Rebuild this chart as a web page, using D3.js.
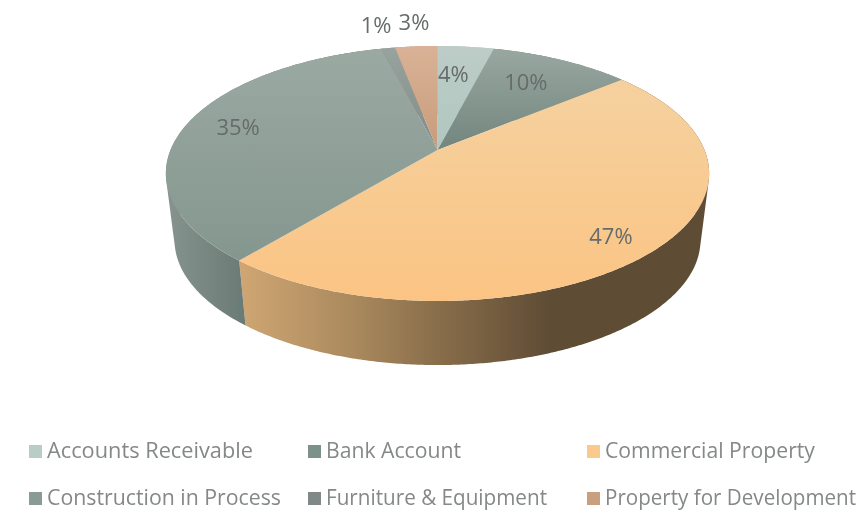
<!DOCTYPE html>
<html><head><meta charset="utf-8">
<script src="https://cdn.jsdelivr.net/npm/d3@7/dist/d3.min.js"></script>
<style>html,body{margin:0;padding:0;background:#fff}svg{display:block;filter:blur(0.6px)}
text{font-family:"Open Sans",sans-serif}</style></head>
<body><svg id="c" width="868" height="513"></svg>
<script>
(function(){
const categories=["Accounts Receivable","Bank Account","Commercial Property","Construction in Process","Furniture & Equipment","Property for Development"];
const values=[4,10,47,35,1,3];
const topStart=["#bdccc7","#99a7a1","#f5d19f","#9ba9a3","#98a3a0","#d9b297"];
const topEnd=["#b0c7c0","#72867e","#fbc484","#84978f","#808c89","#c89c79"];
const sideStops=[
 ["#b0c7c0","#b0c7c0"],["#72867e","#72867e"],
 ["#cfa673","#ab8a5e","#846a48","#5f4c35","#5f4c35"],
 ["#87948f","#6a7a75"],["#808c89","#808c89"],["#c89c79","#c89c79"]];
const legendColors=["#b9cdc7","#7d918b","#fcc98d","#8a9a94","#818888","#c9a07f"];
const legendWidths=[206,135,210,234,221,251];
const labelRadius=[0.7,0.7,0.7,0.7,1.25,1.25];
const labelNudge=[[-5,0],[-2,-2],[28,19],[-22,-4],[-2,-2],[2,-3]];

const svg=d3.select("#c");
const defs=svg.append("defs");
const k=0.184;
const topFace={cx:437.5,apex:150,A:123.2,B:267};
const botFace={cx:437.5,apex:217,A:120.8,B:258.5};
const project=(f,a,r=1)=>{const u=Math.sin(a)*r,v=-Math.cos(a)*r,s=1/(1-k*v);return [f.cx+f.B*u*s,f.apex+f.A*v*s];};
const arcs=d3.pie().sort(null).value(d=>d)(values);
const sideX={2:[240,350,450,550,710],3:[165,245]};
const step=Math.PI/360;
const line=d3.line();
const rim=(f,d)=>{const n=Math.max(4,Math.ceil((d.endAngle-d.startAngle)/step));
  return d3.range(n+1).map(j=>project(f,d.startAngle+(d.endAngle-d.startAngle)*j/n));};

const wall=svg.append("g");
arcs.forEach((d,i)=>{
  const xs=sideX[i]||[0,868];
  const xNorm=d3.scaleLinear().domain([0,868]).range([0,1]);
  const g=defs.append("linearGradient").attr("id","w"+i).attr("gradientUnits","userSpaceOnUse")
    .attr("x1",0).attr("x2",868).attr("y1",0).attr("y2",0);
  xs.forEach((x,j)=>g.append("stop").attr("offset",xNorm(x)).attr("stop-color",sideStops[i][j]));
  const t=rim(topFace,d),b=rim(botFace,d);
  const quads=d3.pairs(d3.range(t.length)).map(([a,c])=>{
    const q=[t[a],t[c],b[c],b[a]];
    if(d3.polygonArea(q)<0)q.reverse();
    return line(q)+"Z";
  }).join("");
  wall.append("path").attr("d",quads).attr("fill",`url(#w${i})`);
});
const face=svg.append("g");
arcs.forEach((d,i)=>{
  const g=defs.append("linearGradient").attr("id","g"+i).attr("x1",0).attr("x2",0).attr("y1",0).attr("y2",1);
  g.append("stop").attr("offset",0).attr("stop-color",topStart[i]);
  g.append("stop").attr("offset",1).attr("stop-color",topEnd[i]);
  const pts=[[topFace.cx,topFace.apex]].concat(rim(topFace,d));
  face.append("path").attr("d",line(pts)+"Z").attr("fill",`url(#g${i})`);
});
arcs.forEach((d,i)=>{
  const p=project(topFace,(d.startAngle+d.endAngle)/2,labelRadius[i]);
  svg.append("text").attr("x",p[0]+labelNudge[i][0]).attr("y",p[1]+labelNudge[i][1]).attr("dy","0.35em")
   .attr("text-anchor","middle").attr("font-size",22).attr("fill","#666b6b").text(d3.format(".0f")(d.value)+"%");
});
const colX=d3.scaleOrdinal().domain([0,1,2]).range([29,308,587]);
const rowY=d3.scaleOrdinal().domain([0,1]).range([451,498]);
categories.forEach((c,i)=>{
  const x=colX(i%3),y=rowY(Math.floor(i/3));
  svg.append("rect").attr("x",x).attr("y",y-6).attr("width",13).attr("height",13).attr("fill",legendColors[i]);
  svg.append("text").attr("x",x+18).attr("y",y).attr("dy","0.35em").attr("font-size",21).attr("fill","#858888")
    .attr("textLength",legendWidths[i]).attr("lengthAdjust","spacingAndGlyphs").text(c);
});
})();
</script></body></html>
